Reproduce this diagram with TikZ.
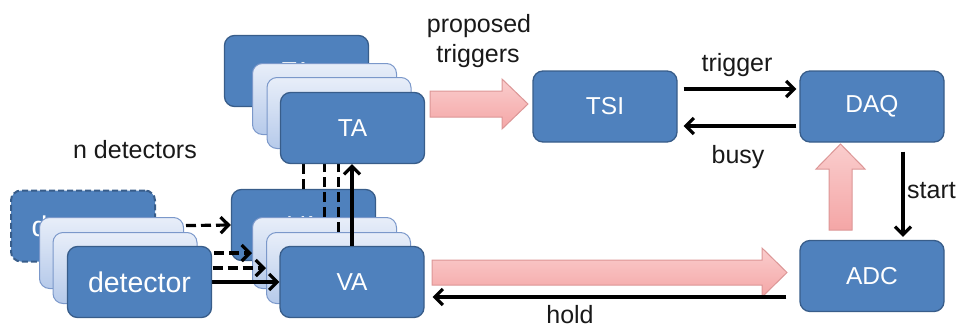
\documentclass[tikz,border=0pt]{standalone}
\usepackage{fontspec}
\setmainfont{Liberation Sans}
\usetikzlibrary{arrows.meta,calc}
\pgfdeclarelayer{bg}
\pgfdeclarelayer{mid}
\pgfsetlayers{bg,mid,main}
\definecolor{boxfill}{HTML}{4F81BD}
\definecolor{boxline}{HTML}{385D8A}
\definecolor{lighttop}{HTML}{E8EEF9}
\definecolor{lightbot}{HTML}{B6CAEA}
\definecolor{lightline}{HTML}{7B98CA}
\definecolor{pinktop}{HTML}{FACDCD}
\definecolor{pinkbot}{HTML}{F4A6A6}
\definecolor{pinkline}{HTML}{DC9696}
\begin{document}
\begin{tikzpicture}[x=1pt,y=-1pt,
  box/.style={draw=boxline, line width=1.3pt, fill=boxfill, rounded corners=10pt,
    minimum width=144pt, minimum height=71pt, text=white, inner sep=0pt,
    font=\fontsize{24.5}{28}\selectfont},
  ghost/.style={draw=lightline, line width=1pt, top color=lighttop, bottom color=lightbot,
    rounded corners=10pt, minimum width=144pt, minimum height=71pt, inner sep=0pt},
  dashbox/.style={box, dash pattern=on 6pt off 3pt, line width=2pt},
  detfont/.style={font=\fontsize{28.5}{32}\selectfont},
  conn/.style={line width=3.2pt, -{Straight Barb[length=8pt,width=16pt]}},
  dconn/.style={conn, dash pattern=on 10pt off 5pt},
  lbl/.style={font=\fontsize{25}{30}\selectfont, text=black!90, inner sep=0pt},
  pinkarrow/.style={draw=pinkline, line width=1pt, top color=pinktop, bottom color=pinkbot}]
\useasboundingbox (0,0) rectangle (962,327);

% VA stack (bottom layer)
\begin{pgfonlayer}{bg}
\node[box] (vaB) at (303.5,225) {VA};
\node[ghost] (vaL1) at (324.5,253) {};
\node[ghost] (vaL2) at (338.5,268) {};
\node[box] (vaF) at (352,282) {VA};
\end{pgfonlayer}

% detector stack
\node[dashbox, detfont] (detB) at (83,226) {detector};
\node[ghost] (detL1) at (111.5,253) {};
\node[ghost] (detL2) at (125,268) {};
\node[box, detfont] (detF) at (139.5,282) {detector};

% TA stack
\node[box] (taB) at (296.5,71) {TA};
\node[ghost] (taL1) at (324.5,99) {};
\node[ghost] (taL2) at (339,113) {};
\node[box] (taF) at (352.5,128) {TA};

% right side
\node[box] (tsi) at (605,106.5) {TSI};
\node[box] (daq) at (872,106.5) {DAQ};
\node[box] (adc) at (872,276) {ADC};

% connectors between stacks (middle layer)
\begin{pgfonlayer}{mid}
\draw[dconn] (detB.east) -- (vaB.west);
\draw[dconn] (detL1.east) -- (vaL1.west);
\draw[dconn] (detL2.east) -- (vaL2.west);
\draw[conn] (detF.east) -- (vaF.west);
\draw[dconn] (vaB.north) -- (vaB.north |- taB.south);
\draw[dconn] (vaL1.north) -- (vaL1.north |- taL1.south);
\draw[dconn] (vaL2.north) -- (vaL2.north |- taL2.south);
\draw[conn] (vaF.north) -- (vaF.north |- taF.south);
\end{pgfonlayer}

% pink arrows
\path[pinkarrow] (430,91) -- (502,91) -- (502,79) -- (528,104) -- (502,129) -- (502,117) -- (430,117) -- cycle;
\path[pinkarrow] (432,260) -- (762,260) -- (762,248) -- (787,272.5) -- (762,297) -- (762,285) -- (432,285) -- cycle;
\path[pinkarrow] (829,230) -- (829,169) -- (816,169) -- (840.5,144) -- (865,169) -- (852,169) -- (852,230) -- cycle;

% control connectors
\draw[conn] ([xshift=6pt,yshift=17.5pt]tsi.east) -- ([xshift=-3pt,yshift=17.5pt]daq.west);
\draw[conn] ([xshift=-3pt,yshift=-19.5pt]daq.west) -- ([xshift=6pt,yshift=-19.5pt]tsi.east);
\draw[conn] ([xshift=31pt,yshift=-9pt]daq.south) -- ([xshift=31pt,yshift=3pt]adc.north);
\draw[conn] ([xshift=-13pt,yshift=-21pt]adc.west) -- ([xshift=8pt,yshift=-15pt]vaF.east);

% labels
\node[lbl, anchor=base] (lprop) at (479,32) {proposed};
\node[lbl, anchor=base] (ltrig) at (478,62) {triggers};
\node[lbl, anchor=base] (ltrigger) at (737,71) {trigger};
\node[lbl, anchor=base] (lbusy) at (738,163) {busy};
\node[lbl, anchor=base west] (lstart) at (907,198) {start};
\node[lbl, anchor=base] (lhold) at (570,323) {hold};
\node[lbl, anchor=base] (lndet) at (135,158) {n detectors};
\end{tikzpicture}
\end{document}
